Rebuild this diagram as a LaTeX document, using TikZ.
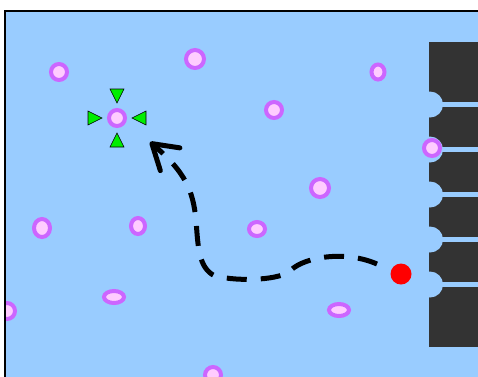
\documentclass[tikz,border=0pt]{standalone}
\usetikzlibrary{arrows.meta}
\definecolor{water}{HTML}{99CCFF}
\definecolor{wall}{HTML}{333333}
\definecolor{ring}{HTML}{CC66FF}
\definecolor{core}{HTML}{FFCCFF}
\definecolor{mark}{HTML}{00EE00}

\begin{document}
\begin{tikzpicture}[x=1pt,y=-1pt,
  particle/.style={draw=ring,fill=core,line width=4pt},
  marker/.style={fill=mark,draw=black,line width=0.6pt},
  trail/.style={line width=5pt,dash pattern=on 20pt off 14pt,
    -{Straight Barb[round,length=24pt,width=30pt]}}]
\clip (0,0) rectangle (478,376);

% Tank
\fill[water] (5,11) rectangle (490,390);

% Wall with channels
\fill[wall] (429,42) rectangle (490,347);
\foreach \y in {104.5,149.5,194.5,239.5,284.5}
{
\fill[water] (429,\y-2.5) rectangle (490,\y+2.5);
\fill[water] (430,\y) circle (13);
}

% Particles
\begin{scope}
\clip (5,11) rectangle (490,390);
\foreach \x/\y/\a/\b in {59/72/8/8, 195/59/9/9, 378/72/6.5/7.5, 117/118/8/8,
  274/110/8/8, 432/148/8/8, 320/188/9/9, 42/228/8/9, 138/226/7/8,
  257/229/8/7, 114/297/10/6, 339/310/10/6, 7/311/8/8, 213/375/8/8}
{
\draw[particle] (\x,\y) ellipse ({\a} and {\b});
}
\end{scope}

% Markers round the target
\coordinate (target) at (117,118);
\foreach \r in {0,90,180,270}
{
\draw[marker,shift={(target)},rotate=\r] (-7,-29) -- (7,-29) -- (0,-15) -- cycle;
}

% Source and its trail
\coordinate (source) at (401,274);
\coordinate (start) at (377,264);
\coordinate (tip) at (150,142);
\fill[red] (source) circle (10.5);
\draw[trail] (start) .. controls (345,250) and (305,257) .. (291,270)
  .. controls (282,280) and (240,282) .. (215,276)
  .. controls (198,268) and (198,245) .. (196,220)
  .. controls (193,190) and (185,172) .. (tip);

% Frame
\draw[line width=2pt] (5,390) -- (5,11) -- (490,11);

\end{tikzpicture}
\end{document}
